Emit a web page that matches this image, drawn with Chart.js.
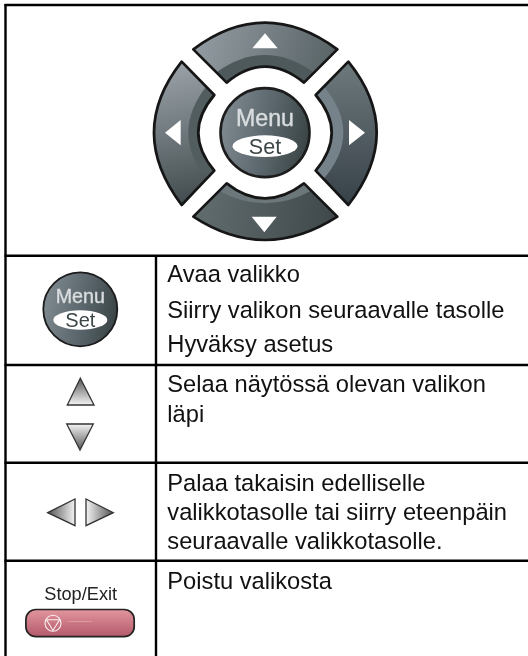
<!DOCTYPE html>
<html><head><meta charset="utf-8">
<style>html,body{margin:0;padding:0;background:#fff}canvas{display:block}</style>
<script src="https://cdn.jsdelivr.net/npm/chart.js@4"></script>
</head><body><canvas id="c" width="528" height="656"></canvas>
<script>
// Table content
const rowLines = [5, 255.7, 365, 462.7, 560.7];
const colLines = [5.5, 156];
const descriptions = ["Avaa valikko","Siirry valikon seuraavalle tasolle","Hyväksy asetus","Selaa näytössä olevan valikon","läpi","Palaa takaisin edelliselle","valikkotasolle tai siirry eteenpäin","seuraavalle valikkotasolle.","Poistu valikosta"];
const descriptionBaselines = [282,317.7,352,392,421.7,491,520,549.3,588.7];
const keyLabels = ["Menu","Set","Stop/Exit"];

const FONT='"Liberation Sans", Arial, sans-serif';
// Grid drawn as line datasets through the scales
const ds=[];
rowLines.forEach(y=>ds.push({data:[{x:colLines[0]-1,y},{x:528,y}]}));
ds.push({data:[{x:colLines[0],y:4},{x:colLines[0],y:656}]});
ds.push({data:[{x:colLines[1],y:rowLines[1]},{x:colLines[1],y:656}]});
ds.forEach(d=>{d.showLine=true;d.borderColor='#000';d.borderWidth=2.4;d.pointRadius=0;d.fill=false;});

function arcShape(ctx,P,a,m,b,c,n,e){ // outer arc a-m-b, inner arc c-n-e
  const q=(ctx,s,m,t)=>{const [sx,sy]=P(s),[mx,my]=P(m),[tx,ty]=P(t);ctx.quadraticCurveTo(2*mx-(sx+tx)/2,2*my-(sy+ty)/2,tx,ty);};
  ctx.beginPath();ctx.moveTo(...P(a));q(ctx,a,m,b);ctx.lineTo(...P(c));q(ctx,c,n,e);ctx.closePath();
}
function tri(ctx,P,a,b,c){ctx.beginPath();ctx.moveTo(...P(a));ctx.lineTo(...P(b));ctx.lineTo(...P(c));ctx.closePath();}

const dpadButtons=[
 {s:[[190,88],[405,8],[622,88],[522,188],[405,140],[290,188]],g:[[190,40],[622,160],'#949da3','#566164'],band:[[262,155],[405,105],[548,155]],bc:'#4e595b',tri:[[405,40],[367,85],[443,85]]},
 {s:[[155,125],[72,338],[155,555],[253,452],[205,338],[253,225]],g:[[120,150],[200,540],'#979fa5','#434d4f'],band:[[232,195],[175,338],[232,480]],bc:'#525d5f',tri:[[105,338],[152,300],[152,376]]},
 {s:[[655,125],[740,338],[655,555],[557,452],[605,338],[557,225]],g:[[640,150],[640,540],'#6b767a','#39434a'],band:[[578,195],[640,338],[578,480]],bc:'#75828a',tri:[[705,338],[657,300],[657,376]]},
 {s:[[190,590],[405,660],[622,590],[522,490],[405,535],[290,490]],g:[[230,560],[622,620],'#5f6a6d','#3e4749'],band:[[262,510],[405,550],[548,510]],bc:'#6c777b',tri:[[365,590],[440,590],[403,637]]}
];

function menuKey(ctx,cx,cy,r,fsM,menuDy,setDy,erx,ery,fsS,lw){
  const g=ctx.createLinearGradient(cx-r,cy-r*0.2,cx+r,cy+r*0.2);
  g.addColorStop(0,'#7f8a90');g.addColorStop(0.55,'#59656a');g.addColorStop(1,'#3a4446');
  ctx.beginPath();ctx.arc(cx,cy,r,0,Math.PI*2);ctx.fillStyle=g;ctx.fill();ctx.lineWidth=lw;ctx.strokeStyle='#1c1c1c';ctx.stroke();
  ctx.textAlign='center';ctx.textBaseline='alphabetic';
  ctx.fillStyle='#d9dddf';ctx.strokeStyle='#d9dddf';ctx.lineWidth=0.4;ctx.font=fsM+'px '+FONT;
  ctx.fillText(keyLabels[0],cx,cy+menuDy);ctx.strokeText(keyLabels[0],cx,cy+menuDy);
  ctx.beginPath();ctx.ellipse(cx,cy+setDy,erx,ery,0,0,Math.PI*2);ctx.fillStyle='#fff';ctx.fill();
  ctx.fillStyle='#3c4648';ctx.font=fsS+'px '+FONT;
  ctx.fillText(keyLabels[1],cx,cy+setDy+fsS*0.36);
}
function grad(ctx,x0,y0,x1,y1,a,b){const g=ctx.createLinearGradient(x0,y0,x1,y1);g.addColorStop(0,a);g.addColorStop(1,b);return g;}
function smallTri(ctx,p,a,b,c,from,to){
  ctx.beginPath();ctx.moveTo(...p(a));ctx.lineTo(...p(b));ctx.lineTo(...p(c));ctx.closePath();
  const f=p(from),t=p(to);ctx.fillStyle=grad(ctx,f[0],f[1],t[0],t[1],'#f4f4f4','#555');ctx.fill();
  ctx.strokeStyle='#333';ctx.lineWidth=1.3;ctx.lineJoin='miter';ctx.stroke();
}

const drawing={id:'drawing',afterDatasetsDraw(chart){
  const ctx=chart.ctx,X=chart.scales.x,Y=chart.scales.y;
  const p=v=>[X.getPixelForValue(v[0]),Y.getPixelForValue(v[1])];
  const Z=v=>p([130+v[0]/3,20+v[1]/3]);
  ctx.save();
  // text
  ctx.fillStyle='#111';ctx.font='23.7px '+FONT;ctx.textAlign='left';ctx.textBaseline='alphabetic';
  descriptions.forEach((t,i)=>ctx.fillText(t,X.getPixelForValue(167.3),Y.getPixelForValue(descriptionBaselines[i])));
  // dpad
  ctx.lineJoin='round';
  dpadButtons.forEach(b=>{
    const s=b.s;arcShape(ctx,Z,s[0],s[1],s[2],s[3],s[4],s[5]);
    const g0=Z(b.g[0]),g1=Z(b.g[1]);
    ctx.fillStyle=grad(ctx,g0[0],g0[1],g1[0],g1[1],b.g[2],b.g[3]);ctx.fill();
    ctx.save();ctx.clip();
    const [a,m,e]=b.band;const A=Z(a),M=Z(m),E=Z(e);
    const dz=[(s[4][0]-m[0])*6,(s[4][1]-m[1])*6];
    ctx.beginPath();ctx.moveTo(...A);ctx.quadraticCurveTo(2*M[0]-(A[0]+E[0])/2,2*M[1]-(A[1]+E[1])/2,...E);
    ctx.lineTo(...Z([e[0]+dz[0],e[1]+dz[1]]));ctx.lineTo(...Z([a[0]+dz[0],a[1]+dz[1]]));ctx.closePath();ctx.fillStyle=b.bc;ctx.fill();
    ctx.restore();
    arcShape(ctx,Z,s[0],s[1],s[2],s[3],s[4],s[5]);ctx.lineWidth=2.7;ctx.strokeStyle='#161616';ctx.stroke();
    tri(ctx,Z,b.tri[0],b.tri[1],b.tri[2]);ctx.fillStyle='#fff';ctx.fill();
  });
  const c=Z([405,338]);
  menuKey(ctx,c[0],c[1],44.5,23.2,-7,13.5,32.5,10.8,21.5,2.6);
  const k=p([80.3,309.3]);
  menuKey(ctx,k[0],k[1],37,19.7,-6.5,10.7,27,9.7,20,1.8);
  // arrows
  smallTri(ctx,p,[80.3,378.3],[67.3,405],[94,405],[80,405],[80,378]);
  smallTri(ctx,p,[66.7,424],[93.3,424],[80,450],[80,424],[80,450]);
  smallTri(ctx,p,[47.7,512.7],[75,499],[75,525.7],[75,512],[48,512]);
  smallTri(ctx,p,[86,499],[113.3,512.7],[86,525.7],[86,512],[113,512]);
  // Stop/Exit
  const t=p([80.7,600]);
  ctx.fillStyle='#222';ctx.font='18.2px '+FONT;ctx.textAlign='center';ctx.fillText(keyLabels[2],t[0],t[1]);
  const r0=p([25.9,609.5]),r1=p([134.2,636.7]);
  ctx.beginPath();ctx.roundRect(r0[0],r0[1],r1[0]-r0[0],r1[1]-r0[1],10);
  ctx.fillStyle=grad(ctx,0,r0[1],0,r1[1],'#e2969d','#b4596b');ctx.fill();ctx.lineWidth=1.7;ctx.strokeStyle='#232323';ctx.stroke();
  const ic=p([53,623.3]);
  ctx.strokeStyle='#fbeef0';ctx.lineWidth=1.1;ctx.beginPath();ctx.arc(ic[0],ic[1],8,0,Math.PI*2);ctx.stroke();
  ctx.beginPath();ctx.moveTo(ic[0]-6.5,ic[1]-3.5);ctx.lineTo(ic[0]+6.5,ic[1]-3.5);ctx.lineTo(ic[0],ic[1]+7.2);ctx.closePath();ctx.stroke();
  const l0=p([68,622.7]),l1=p([92,622.7]);
  ctx.strokeStyle='#c8727e';ctx.lineWidth=3;ctx.beginPath();ctx.moveTo(...l0);ctx.lineTo(...l1);ctx.stroke();
  ctx.strokeStyle='#e2a0a8';ctx.lineWidth=1;ctx.beginPath();ctx.moveTo(l0[0],l0[1]-1);ctx.lineTo(l1[0],l1[1]-1);ctx.stroke();
  ctx.restore();
}};

new Chart(document.getElementById('c'),{
  type:'scatter',
  data:{datasets:ds},
  options:{responsive:false,animation:false,events:[],
    layout:{padding:0},
    plugins:{legend:{display:false},tooltip:{enabled:false}},
    scales:{x:{type:'linear',min:0,max:528,display:false},y:{type:'linear',min:0,max:656,reverse:true,display:false}}},
  plugins:[drawing]
});
</script></body></html>
